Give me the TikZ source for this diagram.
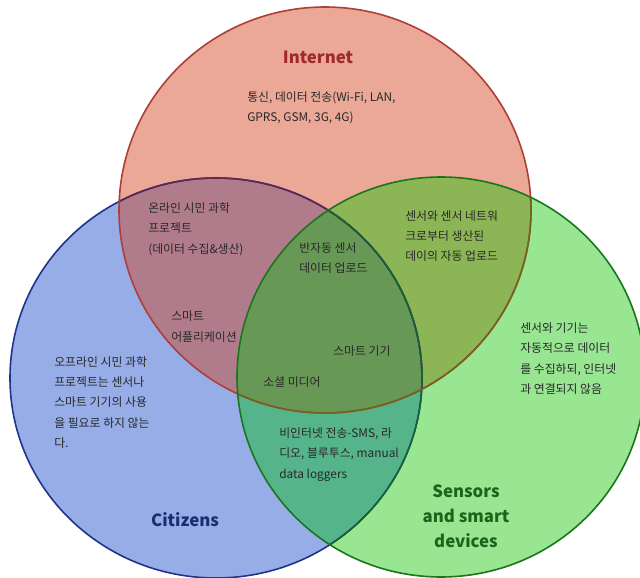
\documentclass[tikz,border=0pt]{standalone}
\usepackage{fontspec}
\setmainfont{Noto Sans CJK KR}
\definecolor{redF}{RGB}{235,168,151}
\definecolor{blueF}{RGB}{150,173,232}
\definecolor{greenF}{RGB}{152,230,146}
\definecolor{rbF}{RGB}{176,124,140}
\definecolor{rgF}{RGB}{140,182,86}
\definecolor{bgF}{RGB}{86,180,138}
\definecolor{allF}{RGB}{104,152,86}
\definecolor{redL}{RGB}{175,62,56}
\definecolor{redLg}{RGB}{112,100,32}
\definecolor{blueL}{RGB}{32,52,140}
\definecolor{blueLr}{RGB}{96,40,78}
\definecolor{blueLg}{RGB}{22,100,50}
\definecolor{greenL}{RGB}{26,118,26}
\definecolor{txt}{RGB}{40,40,40}
\definecolor{redT}{RGB}{160,42,42}
\definecolor{blueT}{RGB}{30,45,112}
\definecolor{greenT}{RGB}{28,100,28}
\begin{document}
\begin{tikzpicture}[x=0.75pt,y=-0.75pt,
  body/.style={anchor=west,align=left,inner sep=0pt,text=txt,
    font={\fontsize{8.9}{15.2}\selectfont}},
  ttl/.style={align=center,inner sep=0pt,
    font={\bfseries\fontsize{12.6}{18.75}\selectfont}},
  outl/.style={line width=1.2pt}]
\useasboundingbox (0,0) rectangle (640,578);
\def\redC{(325,210) ellipse [x radius=206,y radius=203]}
\def\blueC{(216,378) ellipse [x radius=206,y radius=200]}
\def\greenC{(441,377) ellipse [x radius=204,y radius=200]}
\begin{scope}
\clip (0,0) rectangle (640,578);
% fills
\fill[blueF] \blueC;
\fill[redF] \redC;
\fill[greenF] \greenC;
\begin{scope}\clip \redC; \fill[rbF] \blueC; \fill[rgF] \greenC;
  \begin{scope}\clip \blueC; \fill[allF] \greenC; \end{scope}
\end{scope}
\begin{scope}
  \clip \blueC;
  \begin{scope}[even odd rule]
    \clip \redC (-10,-10) rectangle (650,600);
    \fill[bgF] \greenC;
  \end{scope}
\end{scope}
% outlines
\draw[outl,blueL] \blueC;
\begin{scope}\clip \redC; \draw[outl,blueLr] \blueC; \end{scope}
\begin{scope}\clip \greenC; \draw[outl,blueLg] \blueC; \end{scope}
\draw[outl,redL] \redC;
\begin{scope}\clip \greenC; \draw[outl,redLg] \redC; \end{scope}
\draw[outl,greenL] \greenC;
\end{scope}
% titles
\node[ttl,text=redT] (tInternet) at (318,57) {Internet};
\node[ttl,text=blueT] (tCitizens) at (185,520) {Citizens};
\node[ttl,text=greenT] (tSensors) at (466,516) {Sensors\\and smart\\devices};
% texts
\node[body] (nInternet) at (247,108) {통신, 데이터 전송(Wi-Fi, LAN,\\GPRS, GSM, 3G, 4G)};
\node[body] (nOnline) at (148,229) {온라인 시민 과학\\프로젝트\\(데이터 수집\&생산)};
\node[body] (nSemi) at (299,258) {반자동 센서\\데이터 업로드};
\node[body] (nNetwork) at (405,236) {센서와 센서 네트워\\크로부터 생산된\\데이의 자동 업로드};
\node[body] (nApp) at (171,326.5) {스마트\\어플리케이션};
\node[body] (nSmart) at (333,351) {스마트 기기};
\node[body] (nSocial) at (263,382) {소셜 미디어};
\node[body] (nOffline) at (54,402.5) {오프라인 시민 과학\\프로젝트는 센서나\\스마트 기기의 사용\\을 필요로 하지 않는\\다.};
\node[body] (nSensors) at (520,358.5) {센서와 기기는\\자동적으로 데이터\\를 수집하되, 인터넷\\과 연결되지 않음};
\node[body] (nNonNet) at (279,454.5) {비인터넷 전송-SMS, 라\\디오, 블루투스, manual\\data loggers};
\end{tikzpicture}
\end{document}
